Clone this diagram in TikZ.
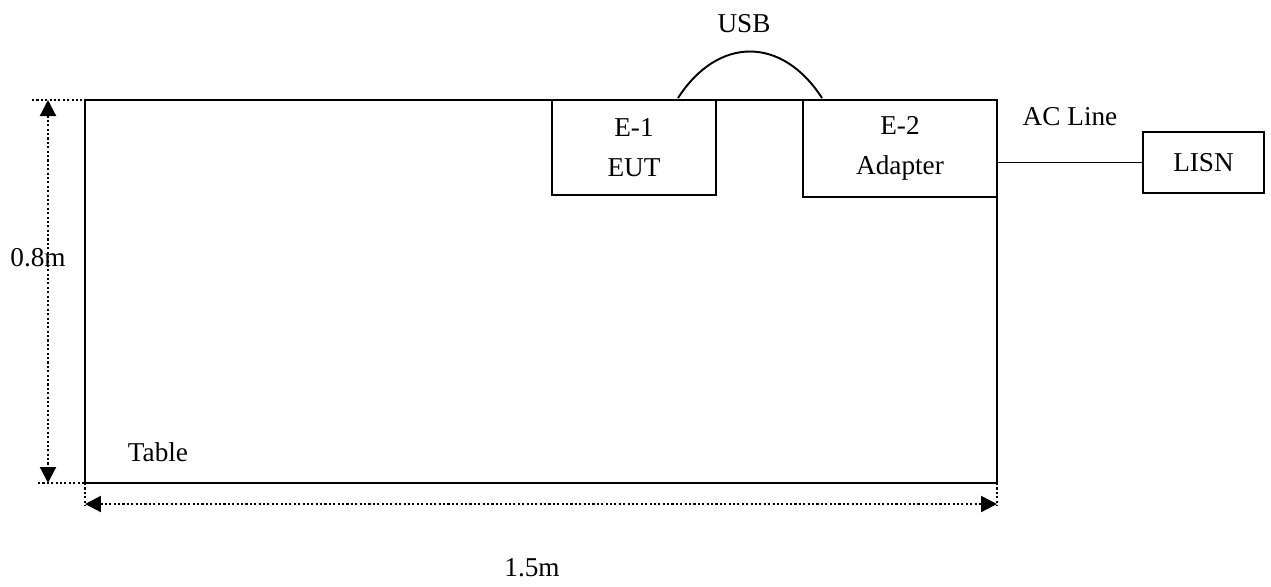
\documentclass[tikz,border=0pt]{standalone}
\usepackage{fontspec}
\setmainfont{Liberation Serif}
\usetikzlibrary{arrows.meta,positioning,calc}

\begin{document}
\begin{tikzpicture}[x=0.02cm,y=-0.02cm,line width=1.1pt,font=\fontsize{15.5}{18}\selectfont,
  unit/.style={draw,line width=1.1pt,inner sep=0pt,align=center},
  dimline/.style={line width=1.2pt,dash pattern=on 1.2pt off 1.3pt},
  dimarrow/.style={dimline,{Triangle[length=0.32cm,width=0.32cm]}-{Triangle[length=0.32cm,width=0.32cm]}}]
\useasboundingbox (0,0) rectangle (1271,586);
% table
\coordinate (tl) at (85,100);
\coordinate (br) at (997,483);
\draw (tl) rectangle (br);
\node (table) at (158,452) {Table};
% equipment
\node[unit,minimum width=3.28cm,minimum height=1.9cm] (eut) at (634,147.5) {E-1\\[5pt]EUT};
\node[unit,minimum width=3.88cm,minimum height=1.94cm] (adapter) at (900,148.5) {E-2\\[5pt]Adapter};
\node[unit,minimum width=2.42cm,minimum height=1.22cm] (lisn) at (1203.5,162.5) {LISN};
% cables
\draw (678,98) .. controls (718,36) and (782,36) .. (822,98);
\node (usb) at (744,24) {USB};
\draw (lisn.west) -- (lisn.west -| adapter.east);
\node (acline) at (1070,117) {AC Line};
% dimensions
\draw[dimline] (32,100) -- (102,100);
\draw[dimline] (38,483) -- (107,483);
\draw[dimarrow] (48,100) -- (48,483);
\node (height) at (38,258) {0.8m};
\draw[dimline] (85,483) -- (85,506);
\draw[dimline] (997,483) -- (997,506);
\draw[dimarrow] (85,504) -- (997,504);
\node (width) at (532,568) {1.5m};
\end{tikzpicture}
\end{document}
